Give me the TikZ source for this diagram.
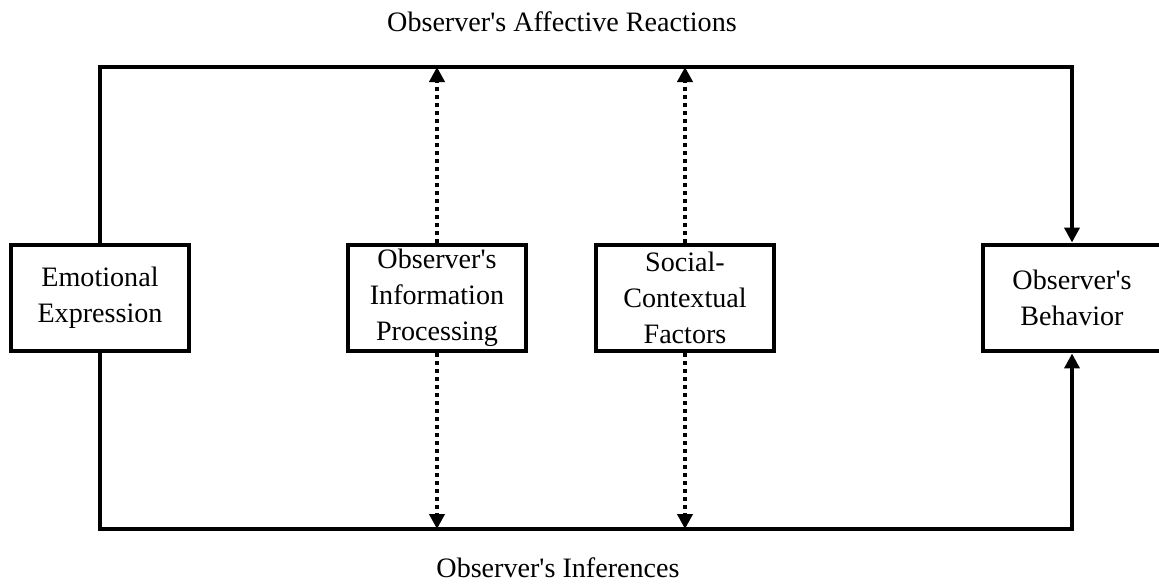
\documentclass[tikz,border=0pt]{standalone}
\usepackage{fontspec}
\setmainfont{Liberation Serif}
\usetikzlibrary{arrows.meta}

\begin{document}
\begin{tikzpicture}[x=0.02cm, y=-0.02cm, font=\fontsize{16}{20.5}\selectfont,
  box/.style={draw, line width=0.08cm, fill=white, align=center, minimum width=3.58cm, minimum height=2.14cm, inner sep=0pt},
  link/.style={line width=0.08cm},
  tip/.style={-{Triangle[length=0.3cm, width=0.3cm]}},
  dots/.style={line width=0.08cm, dash pattern=on 0.08cm off 0.08cm}]
  \useasboundingbox (0, 0) rectangle (1159, 585);

  % Boxes
  \node[box] (emo) at (100, 298) {Emotional\\Expression};
  \node[box] (info) at (437, 298) {Observer\textquotesingle s\\Information\\Processing};
  \node[box] (soc) at (685, 298) {Social-\\Contextual\\Factors};
  \node[box] (beh) at (1072, 298) {Observer\textquotesingle s\\Behavior};

  % Corners of the loop
  \coordinate (tl) at (100, 67);
  \coordinate (tr) at (1072, 67);
  \coordinate (bl) at (100, 529);
  \coordinate (br) at (1072, 529);

  % Loop: affective reactions on top, inferences below
  \draw[link, tip] (emo.north) -- (tl) -- (tr) -- (beh.north);
  \draw[link, tip] (emo.south) -- (bl) -- (br) -- (beh.south);

  % Dotted influences
  \draw[dots, tip] (info.north) -- (info.north |- tl);
  \draw[dots, tip] (info.south) -- (info.south |- bl);
  \draw[dots, tip] (soc.north) -- (soc.north |- tl);
  \draw[dots, tip] (soc.south) -- (soc.south |- bl);

  % Path labels
  \node (react) at (562, 22) {Observer\textquotesingle s Affective Reactions};
  \node (infer) at (558, 568) {Observer\textquotesingle s Inferences};

\end{tikzpicture}
\end{document}
